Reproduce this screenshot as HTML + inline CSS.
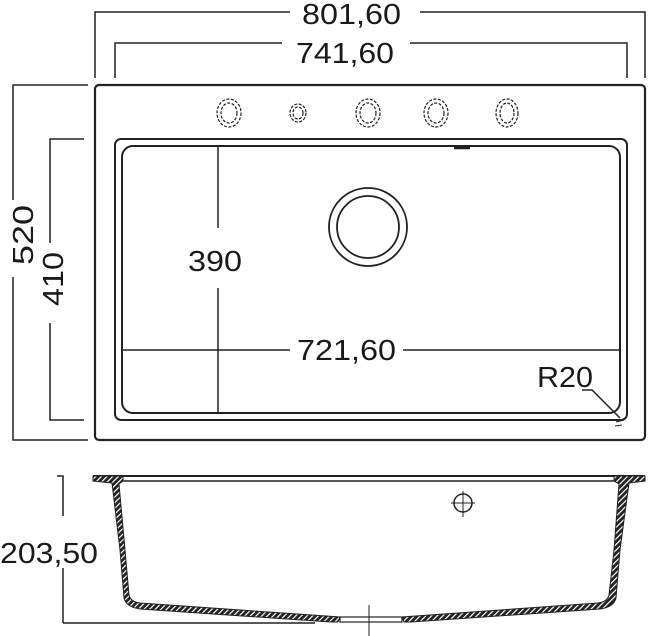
<!DOCTYPE html>
<html><head><style>
html,body{margin:0;padding:0;background:#fff;}
svg{display:block;}
text{font-family:"Liberation Sans",Arial,sans-serif;fill:#1a1a1a;}
</style></head><body>
<svg width="648" height="636" viewBox="0 0 648 636" xmlns="http://www.w3.org/2000/svg">
<defs>
<pattern id="h" width="4" height="4" patternUnits="userSpaceOnUse" patternTransform="rotate(45)">
<rect width="4" height="4" fill="#222"/><rect x="0" width="1.2" height="4" fill="#fff"/>
</pattern>
</defs>
<g stroke="#222" fill="none" stroke-width="1.5">
<polyline points="95,78 95,12 290,12"/>
<polyline points="420,12 645,12 645,78"/>
<polyline points="115,78 115,43 282,43"/>
<polyline points="410,43 627,43 627,78"/>
<polyline points="88,85 13,85 13,200"/>
<polyline points="13,277 13,440 88,440"/>
<polyline points="84,139 50,139 50,243"/>
<polyline points="50,323 50,420 84,420"/>
<rect x="95" y="85" width="550" height="355" rx="4" stroke-width="2.2"/>
<rect x="115" y="139" width="512" height="281" rx="6" stroke-width="2"/>
<rect x="122" y="146" width="498" height="267" rx="11" stroke-width="2"/>
<g stroke-dasharray="3 1.5" stroke-width="1.2">
<ellipse cx="229" cy="113" rx="12" ry="14"/><ellipse cx="229" cy="113" rx="8" ry="10"/>
<ellipse cx="298" cy="113" rx="8" ry="9"/><ellipse cx="298" cy="113" rx="5" ry="6"/>
<ellipse cx="368" cy="113" rx="12" ry="14"/><ellipse cx="368" cy="113" rx="8" ry="10"/>
<ellipse cx="436" cy="113" rx="12" ry="14"/><ellipse cx="436" cy="113" rx="8" ry="10"/>
<ellipse cx="507" cy="113" rx="11" ry="14"/><ellipse cx="507" cy="113" rx="7" ry="10"/>
</g>
<path d="M454 148 L470 148" stroke-width="2.5"/>
<circle cx="368" cy="227" r="39" stroke-width="1.8"/>
<circle cx="368" cy="227" r="31" stroke-width="1.8"/>
<line x1="218" y1="146" x2="218" y2="228"/>
<line x1="218" y1="288" x2="218" y2="413"/>
<line x1="122" y1="350" x2="290" y2="350"/>
<line x1="403" y1="350" x2="620" y2="350"/>
<polyline points="582,390 592,390 620,418"/>
<path d="M616 422 L624 420" stroke-width="1"/>
<path d="M615 426 L622 425" stroke-width="1"/>
<line x1="93" y1="476" x2="645" y2="476" stroke-width="2"/>
<line x1="123" y1="481" x2="614" y2="481" stroke-width="1.5"/>
<polyline points="63,623 315,623"/>
<polyline points="57,476 63,476 63,516"/>
<line x1="63" y1="568" x2="63" y2="623"/>
<line x1="369" y1="605" x2="369" y2="636" stroke-width="1"/>
<circle cx="463" cy="503" r="9"/>
<line x1="463" y1="491" x2="463" y2="517" stroke-width="1"/>
<line x1="451" y1="503" x2="475" y2="503" stroke-width="1"/>
</g>
<path d="M93 476 L123 476 L123 481 L119 484 L125 550 L129 595 Q131 602 140 603 L340 617 L338 622 L331 622 L140 609 Q126 607 124 598 L120 550 L112 483 L93 481 Z" fill="url(#h)" stroke="#222" stroke-width="1"/>
<path d="M645 476 L614 476 L614 481 L619 484 L614 550 L609 595 Q607 602 598 603 L402 617 L404 622 L411 622 L600 609 Q614 607 616 598 L620 550 L629 483 L645 481 Z" fill="url(#h)" stroke="#222" stroke-width="1"/>
<rect x="340" y="617" width="62" height="5" fill="none" stroke="#222" stroke-width="1.2"/>
<text x="302" y="24" font-size="29" textLength="99" lengthAdjust="spacingAndGlyphs">801,60</text>
<text x="296" y="63" font-size="29" textLength="98" lengthAdjust="spacingAndGlyphs">741,60</text>
<text x="297" y="360" font-size="29" textLength="99" lengthAdjust="spacingAndGlyphs">721,60</text>
<text x="188" y="271" font-size="29" textLength="54" lengthAdjust="spacingAndGlyphs">390</text>
<text x="537" y="387" font-size="29" textLength="56" lengthAdjust="spacingAndGlyphs">R20</text>
<text x="0" y="563" font-size="29" textLength="98" lengthAdjust="spacingAndGlyphs">203,50</text>
<text transform="translate(33,265) rotate(-90)" font-size="29" textLength="60" lengthAdjust="spacingAndGlyphs">520</text>
<text transform="translate(63,306) rotate(-90)" font-size="29" textLength="54" lengthAdjust="spacingAndGlyphs">410</text>
</svg>
</body></html>
